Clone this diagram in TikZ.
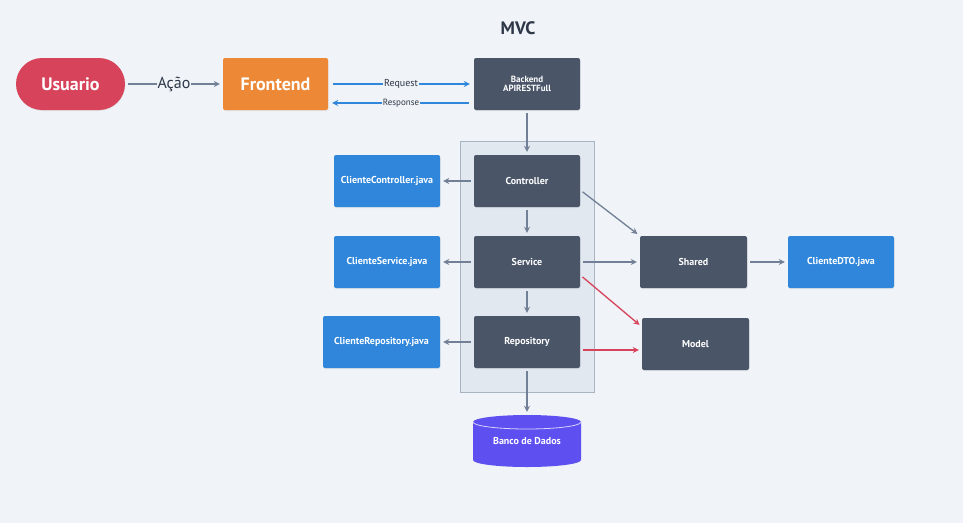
\documentclass[tikz,border=0pt]{standalone}
\usepackage{fontspec}
\setmainfont{PT Sans}
\usetikzlibrary{arrows.meta,shadows}
\definecolor{fundo}{HTML}{F0F3F7}
\definecolor{texto}{HTML}{2D3748}
\definecolor{cinza}{HTML}{4A5568}
\definecolor{setacinza}{HTML}{718096}
\definecolor{azulc}{HTML}{2F86DA}
\definecolor{vermelho}{HTML}{D6435A}
\definecolor{laranja}{HTML}{ED8936}
\definecolor{roxo}{HTML}{5E4FF0}
\definecolor{grupofill}{HTML}{E2E8F0}
\definecolor{grupodraw}{HTML}{A9B4C2}
\newcommand{\fs}[1]{\fontsize{#1}{#1}\selectfont}

\begin{document}
\begin{tikzpicture}[x=1pt, y=-1pt,
  >={Stealth[length=6pt,width=6pt]},
  caixa/.style={rounded corners=2pt, text=white, font=\bfseries\fs{10},
    minimum width=106pt, minimum height=52pt, inner sep=0pt,
    drop shadow={opacity=0.12, shadow xshift=0.5pt, shadow yshift=-1pt}},
  escuro/.style={caixa, fill=cinza},
  azul/.style={caixa, fill=azulc},
  seta/.style={->, draw=setacinza, line width=1.3pt, shorten >=3pt, shorten <=3pt},
  setavermelha/.style={seta, draw=vermelho},
  setaazul/.style={->, draw=azulc, line width=1.3pt, shorten >=4pt, shorten <=5pt},
  rotulo/.style={fill=fundo, inner sep=1pt, text=texto}]

  \fill[fundo] (0,0) rectangle (963,523);
  \useasboundingbox (0,0) rectangle (963,523);

  \node[font=\bfseries\fs{18}, text=texto] (titulo) at (518,28) {MVC};

  %% camada mvc
  \draw[fill=grupofill, draw=grupodraw, line width=1pt] (460,141) rectangle (594,392);

  \node[caixa, fill=vermelho, minimum width=109pt, rounded corners=26pt, font=\bfseries\fs{18}] (usuario) at (70.5,84) {Usuario};
  \node[caixa, fill=laranja, minimum width=105pt, font=\bfseries\fs{18}] (frontend) at (275.5,84) {Frontend};
  \node[escuro, align=center, font=\bfseries\fs{9}] (backend) at (527,84) {Backend\\APIRESTFull};

  \node[escuro] (controller) at (527,181) {Controller};
  \node[escuro] (service)    at (527,262) {Service};
  \node[escuro] (repository) at (527,342) {Repository};

  \node[azul] (ccontroller) at (387,181) {ClienteController.java};
  \node[azul] (cservice)    at (387,262) {ClienteService.java};
  \node[azul, minimum width=117pt] (crepository) at (381.5,342) {ClienteRepository.java};

  \node[escuro, minimum width=107pt] (shared) at (693.5,262) {Shared};
  \node[azul] (clientedto) at (841,262) {ClienteDTO.java};
  \node[escuro, minimum width=107pt] (model) at (695.5,344) {Model};

  %% banco de dados
  \fill[roxo] (473,422) -- (473,460) arc[start angle=180, end angle=0, x radius=54, y radius=7]
    -- (581,422) arc[start angle=0, end angle=-180, x radius=54, y radius=7] -- cycle;
  \draw[white, opacity=0.75, line width=0.8pt] (473,422) arc[start angle=180, end angle=0, x radius=54, y radius=7];
  \node[text=white, font=\bfseries\fs{10}, minimum width=108pt, minimum height=52pt, inner sep=0pt] (banco) at (527,441) {Banco de Dados};

  \draw[seta] (usuario) -- node[rotulo, font=\fs{16}]{Ação} (frontend); %% usuario->frontend
  \draw[setaazul] (frontend.east) -- node[rotulo, font=\fs{10}]{Request} (backend.west);
  \draw[setaazul] ([yshift=-19pt]backend.west) -- node[rotulo, font=\fs{9}]{Response} ([yshift=-19pt]frontend.east);

  \draw[seta] (backend) -- (controller);
  \draw[seta] (controller) -- (ccontroller);
  \draw[seta] (controller) -- (service);
  \draw[seta] (service) -- (cservice);
  \draw[seta] (service) -- (repository);
  \draw[seta] (repository) -- (crepository);
  \draw[seta] (repository) -- (banco);

  \draw[seta] ([yshift=-9pt]controller.east) -- (shared.north west); %% controller->shared
  \draw[seta] (service) -- (shared);
  \draw[seta] (shared) -- (clientedto);
  \draw[setavermelha] ([yshift=-13pt]service.east) -- ([yshift=-9pt]model.north west); %% service->model
  \draw[setavermelha] ([yshift=-8pt]repository.east) -- ([yshift=-6pt]model.west); %% repository->model
\end{tikzpicture}
\end{document}
